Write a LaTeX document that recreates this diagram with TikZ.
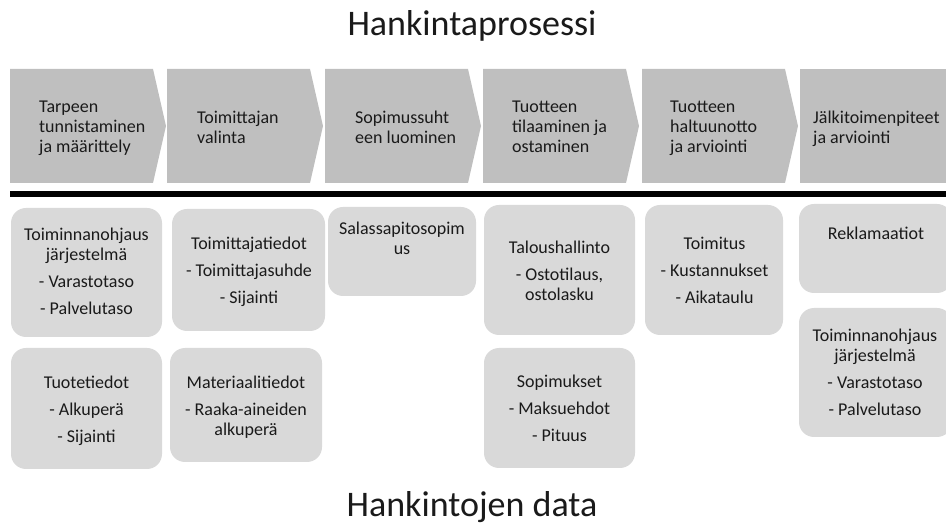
\documentclass[tikz,border=0pt]{standalone}
\usepackage{fontspec}
\setmainfont{Carlito}
\definecolor{chevgray}{HTML}{BFBFBF}
\definecolor{boxgray}{HTML}{D9D9D9}
\definecolor{txt}{HTML}{1A1A1A}
\begin{document}
\begin{tikzpicture}[x=1pt,y=-1pt,
  chevtext/.style={anchor=west,align=left,text=txt,font=\fontsize{18}{20}\selectfont,inner sep=0pt,
    execute at begin node=\strut, execute at end node=\strut},
  datatext/.style={align=center,text=txt,font=\fontsize{18}{20}\selectfont,inner sep=0pt,
    execute at begin node=\strut, execute at end node=\strut},
  titletext/.style={text=txt,font=\fontsize{36}{40}\selectfont,inner sep=0pt,anchor=base}]
\useasboundingbox (0,0) rectangle (946,526);
\clip (0,0) rectangle (946,526);

% titles
\node[titletext] (title) at (472,36) {Hankintaprosessi};
\node[titletext] (bottomtitle) at (472,517) {Hankintojen data};

% process chevrons
\foreach \L in {10,167,325,483,642}
  \fill[chevgray] (\L,69) -- (\L+143,69) -- (\L+156,126) -- (\L+143,183) -- (\L,183) -- cycle;
\fill[chevgray] (800,69) rectangle (960,183);

\node[chevtext] (p1) at (39,130) {Tarpeen\\tunnistaminen\\ja määrittely};
\node[chevtext] (p2) at (197,130) {Toimittajan\\valinta};
\node[chevtext] (p3) at (355,130) {Sopimussuht\\een luominen};
\node[chevtext] (p4) at (512,130) {Tuotteen\\tilaaminen ja\\ostaminen};
\node[chevtext] (p5) at (670,130) {Tuotteen\\haltuunotto\\ja arviointi};
\node[chevtext] (p6) at (813,130) {Jälkitoimenpiteet\\ja arviointi};

% separator
\fill[black] (10,191) rectangle (946,197);

% data boxes
\begin{scope}[rounded corners=15pt]
\fill[boxgray] (11,208) rectangle (162,337);
\fill[boxgray] (11,348) rectangle (162,469);
\fill[boxgray] (172,209) rectangle (325,331);
\fill[boxgray] (170,348) rectangle (322,462);
\fill[boxgray] (328,207) rectangle (476,296);
\fill[boxgray] (484,205) rectangle (635,335);
\fill[boxgray] (484,348) rectangle (635,468);
\fill[boxgray] (645,205) rectangle (783,335);
\fill[boxgray] (799,204) rectangle (952,293);
\fill[boxgray] (799,308) rectangle (952,437);
\end{scope}

\node[datatext] (a1) at (86.5,274.5) {Toiminnanohjaus\\järjestelmä\\[7pt]- Varastotaso\\[7pt]- Palvelutaso};
\node[datatext] (a2) at (86.5,412) {Tuotetiedot\\[7pt]- Alkuperä\\[7pt]- Sijainti};
\node[datatext] (b1) at (249,273.5) {Toimittajatiedot\\[7pt]- Toimittajasuhde\\[7pt]- Sijainti};
\node[datatext] (b2) at (246,409) {Materiaalitiedot\\[7pt]- Raaka-aineiden\\alkuperä};
\node[datatext] (c1) at (402,241) {Salassapitosopim\\us};
\node[datatext] (d1) at (559.5,273.5) {Taloushallinto\\[7pt]- Ostotilaus,\\ostolasku};
\node[datatext] (d2) at (559.5,411) {Sopimukset\\[7pt]- Maksuehdot\\[7pt]- Pituus};
\node[datatext] (e1) at (714.5,273.5) {Toimitus\\[7pt]- Kustannukset\\[7pt]- Aikataulu};
\node[datatext] (f1) at (876,236) {Reklamaatiot};
\node[datatext] (f2) at (875,375) {Toiminnanohjaus\\järjestelmä\\[7pt]- Varastotaso\\[7pt]- Palvelutaso};
\end{tikzpicture}
\end{document}
